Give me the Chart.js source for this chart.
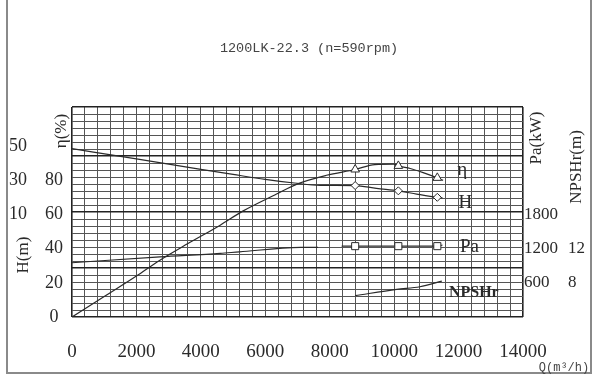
<!DOCTYPE html>
<html>
<head>
<meta charset="utf-8">
<script src="https://cdn.jsdelivr.net/npm/chart.js@4.4.1/dist/chart.umd.min.js"></script>
<style>body{margin:0;background:#fff}</style>
</head>
<body>
<canvas id="chart" width="600" height="387"></canvas>
<script>
let qTicks=[0,2000,4000,6000,8000,10000,12000,14000];
let etaTicks=[0,20,40,60,80];
let headTicks=[10,30,50];
let powerTicks=[600,1200,1800];
let npshTicks=[8,12];
let markQ=[8790,10130,11340];

let effQ=[0,1000,2000,2730,3600,4600,5300,6350,7000,7900,8790,9400,10000,10130,10500,10900,11340,11520];
let effVal=[0,12,24,33.3,43,53.8,62,72,78,83,86.4,89.3,89.5,88.5,87,84.6,81.5,80];
let headQ=[0,2000,4000,5000,6000,6900,7700,8790,9450,10130,10700,11340,11500];
let headVal=[48.6,42.6,36.5,33.5,30.6,28.5,27.1,27.0,25.3,23.9,22.0,20.1,19.8];
let powerQ=[0,2730,4600,5200,7100,7640,7900,8370,8790,10130,11340,11500];
let powerVal=[953,1058,1118,1146,1223,1225,null,1245,1245,1245,1245,1265];
let npshQ=[8790,10080,10800,11480];
let npshVal=[6.5,7.24,7.54,8.2];

const ink='#2a2a2a';
const serif='"Liberation Serif", "DejaVu Serif", serif';
const pts=(qs,vs)=>qs.map((q,i)=>({x:q,y:vs[i]}));
const markR=r=>c=>(c.raw && markQ.includes(c.raw.x)) ? r : 0;

function fixTicks(list){
    return s=>{ s.ticks=list.map(v=>({value:v})); };
}

// texts that sit outside the normal axis title spots
const extras={
    id:'extras',
    afterDraw(chart){
        const c=chart.ctx;
        c.save();
        // outer frame
        c.strokeStyle='#8a8a8a';
        c.lineWidth=2;
        c.beginPath();
        c.moveTo(7,0);c.lineTo(7,373);c.lineTo(591,373);c.lineTo(591,0);
        c.stroke();

        c.fillStyle='#444';
        c.font='13.5px "Liberation Mono", monospace';
        c.textAlign='center';c.textBaseline='middle';
        c.fillText('1200LK-22.3 (n=590rpm)',309,48);
        c.font='12px "Liberation Mono", monospace';
        c.fillText('Q(m³/h)',564,368);

        c.fillStyle=ink;
        c.font='17px '+serif;
        const vert=(t,x,y)=>{c.save();c.translate(x,y);c.rotate(-Math.PI/2);c.fillText(t,0,0);c.restore();};
        vert('η(%)',62,131);
        vert('H(m)',24,255);
        vert('Pa(kW)',537,138);
        vert('NPSHr(m)',577,167);

        // series names next to the curve ends
        const names=[['η',19,-10,'19px '],['H',23,5,'19px '],['Pa',27,2,'19px '],['NPSHr',32,12,'bold 16px ']];
        names.forEach((n,i)=>{
            const meta=chart.getDatasetMeta(i);
            const last=meta.data[meta.data.length-1];
            c.font=n[3]+serif;
            c.textAlign='center';
            c.fillText(n[0],last.x+n[1],last.y+n[2]);
        });
        c.restore();
    }
};

const noGrid={display:false,drawTicks:false};

let ctx=document.getElementById('chart').getContext('2d');
let chart=new Chart(ctx,{
    type:'line',
    data:{
        datasets:[{
            label:'η',
            data:pts(effQ,effVal),
            yAxisID:'y',
            pointStyle:'triangle',
            pointRadius:markR(5),
        },{
            label:'H',
            data:pts(headQ,headVal),
            yAxisID:'yH',
            pointStyle:'rectRot',
            pointRadius:markR(4),
        },{
            label:'Pa',
            data:pts(powerQ,powerVal),
            yAxisID:'yPa',
            pointStyle:'rect',
            pointRadius:markR(5),
            spanGaps:false,
        },{
            label:'NPSHr',
            data:pts(npshQ,npshVal),
            yAxisID:'yN',
            pointRadius:0,
        }]
    },
    options:{
        responsive:false,
        animation:false,
        layout:{padding:{top:107,left:0,right:0,bottom:0}},
        elements:{
            line:{borderColor:ink,borderWidth:1.2,cubicInterpolationMode:'monotone',fill:false},
            point:{borderColor:ink,backgroundColor:'#fff',borderWidth:1,hoverRadius:0}
        },
        plugins:{legend:{display:false},title:{display:false},tooltip:{enabled:false}},
        scales:{
            x:{
                type:'linear',min:0,max:14000,
                ticks:{stepSize:400,autoSkip:false,maxRotation:0,color:ink,padding:24,
                    font:{family:serif,size:19},
                    callback:v=>qTicks.includes(v)?v:''},
                grid:{color:c=>(c.tick.value===0||c.tick.value===14000)?'#222':'#555',
                    lineWidth:c=>(c.tick.value===0||c.tick.value===14000)?1.6:1,drawTicks:false},
                border:{display:false},
                afterFit:s=>{s.height=70;}
            },
            yGrid:{
                position:'left',weight:0,min:0,max:30,
                ticks:{display:false,stepSize:1},
                grid:{color:c=>[0,7,15,23,30].includes(c.tick.value)?'#222':'#555',
                    lineWidth:c=>[0,7,15,23,30].includes(c.tick.value)?1.6:1,drawTicks:false},
                border:{display:false},
                afterFit:s=>{s.width=0;}
            },
            y:{
                position:'left',weight:1,min:0,max:123,
                afterBuildTicks:fixTicks(etaTicks),
                ticks:{color:ink,padding:9,crossAlign:'center',font:{family:serif,size:18},callback:v=>v},
                grid:noGrid,border:{display:false},
                afterFit:s=>{s.width=35;}
            },
            yH:{
                position:'left',weight:2,min:-50,max:73,
                afterBuildTicks:fixTicks(headTicks),
                ticks:{color:ink,padding:10,crossAlign:'center',font:{family:serif,size:18},callback:v=>v},
                grid:noGrid,border:{display:false},
                afterFit:s=>{s.width=37;}
            },
            yPa:{
                position:'right',weight:1,min:0,max:3690,
                afterBuildTicks:fixTicks(powerTicks),
                ticks:{color:ink,padding:1,font:{family:serif,size:17},callback:v=>v},
                grid:noGrid,border:{display:false},
                afterFit:s=>{s.width=37;}
            },
            yN:{
                position:'right',weight:2,min:4,max:28.6,
                afterBuildTicks:fixTicks(npshTicks),
                ticks:{color:ink,padding:8,font:{family:serif,size:17},callback:v=>v},
                grid:noGrid,border:{display:false},
                afterFit:s=>{s.width=40;}
            }
        }
    },
    plugins:[extras]
});
</script>
</body>
</html>
